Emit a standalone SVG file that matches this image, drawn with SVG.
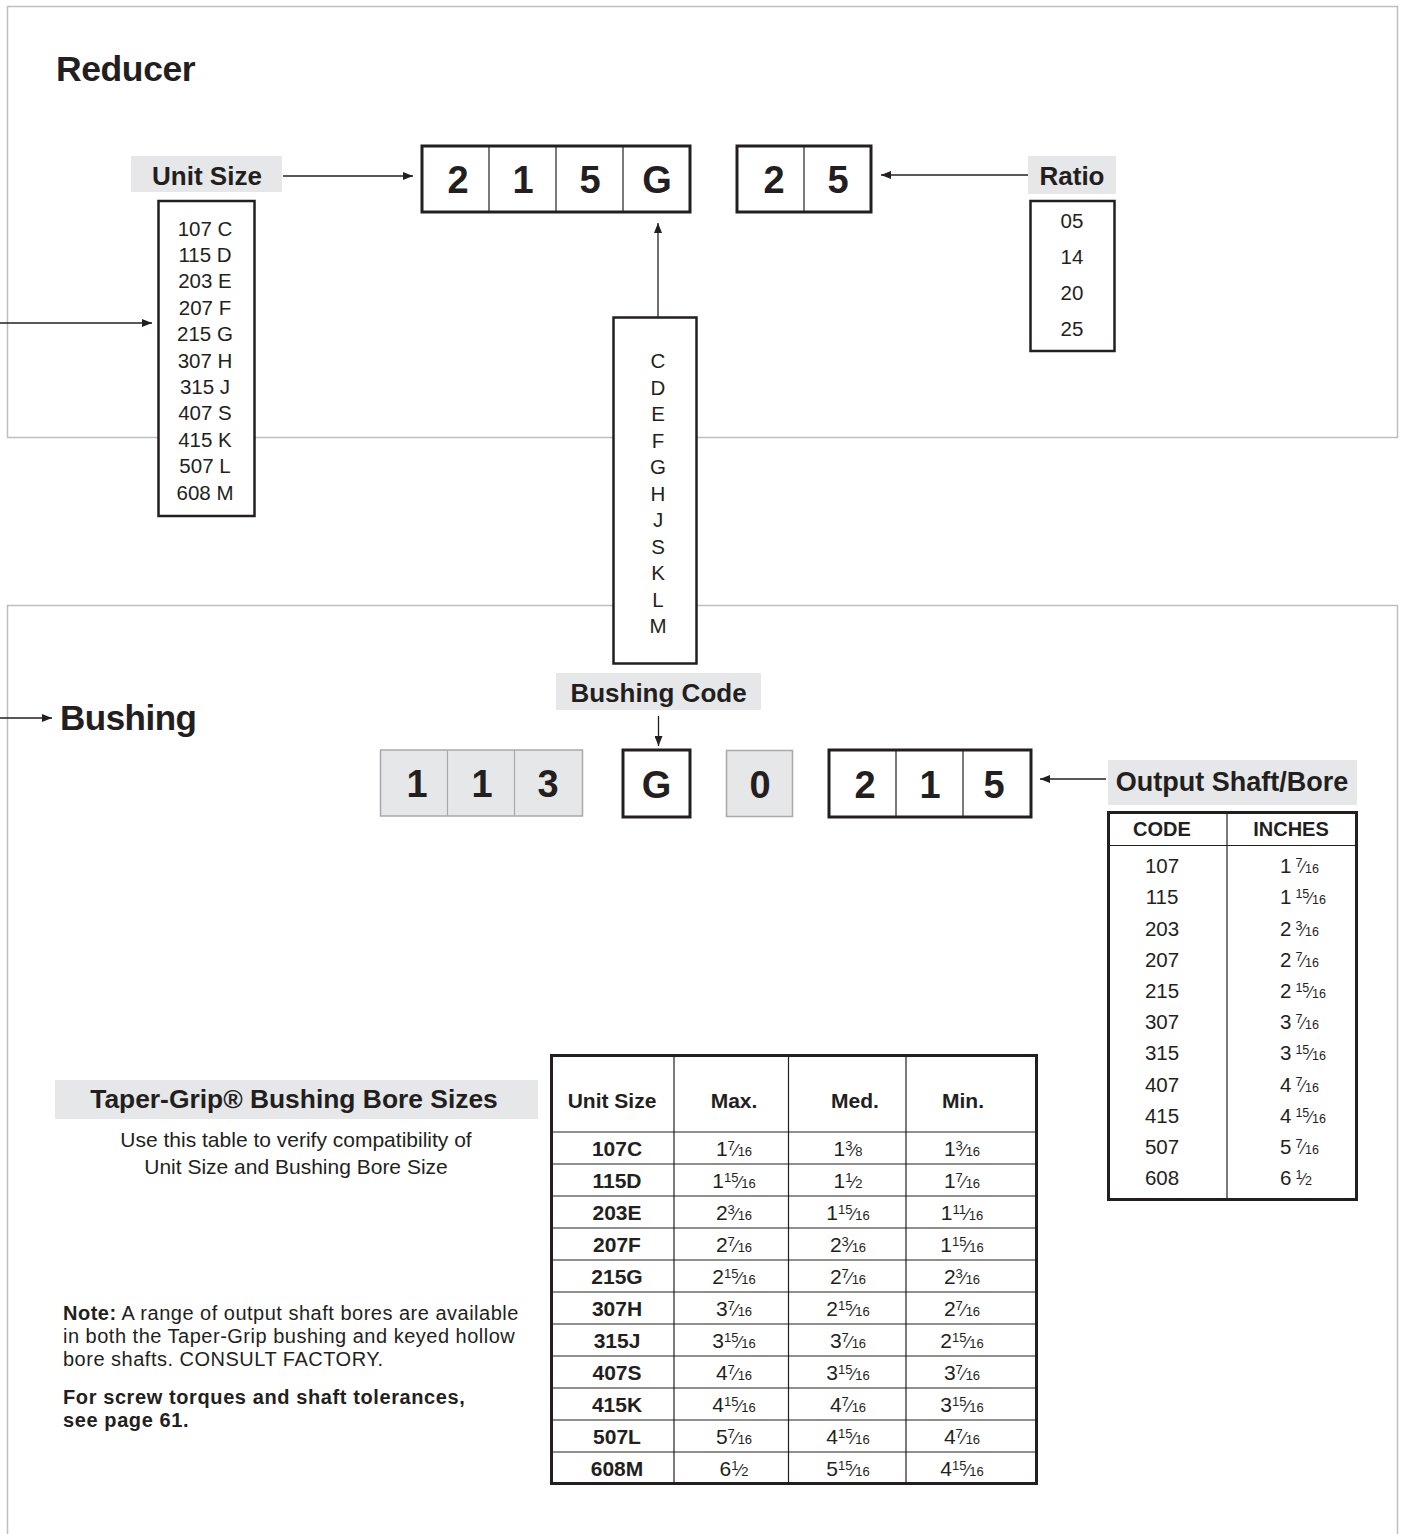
<svg xmlns="http://www.w3.org/2000/svg" width="1403" height="1534" viewBox="0 0 1403 1534">
<defs>
<marker id="ah" viewBox="0 0 10 8" refX="10" refY="4" markerWidth="10" markerHeight="8" markerUnits="userSpaceOnUse" orient="auto"><path d="M0,0 L10,4 L0,8 z" fill="#231f20"/></marker>
<style>
text{font-family:"Liberation Sans",Arial,sans-serif;fill:#231f20}
.b{font-weight:bold}
.m{text-anchor:middle}
.pn{fill:none;stroke:#bcbec0;stroke-width:1.5}
.lbl{fill:#e6e7e8}
.box{fill:#fff;stroke:#231f20;stroke-width:3}
.lst{fill:#fff;stroke:#231f20;stroke-width:2.5}
.gbox{fill:#e6e7e8;stroke:#a7a9ac;stroke-width:1.5}
.thin{stroke:#231f20;stroke-width:1.2;fill:none}
.gthin{stroke:#a7a9ac;stroke-width:1.2;fill:none}
.con{stroke:#231f20;stroke-width:1.3;fill:none;marker-end:url(#ah)}
.dg{font-size:38px;font-weight:bold}
.li{font-size:20.5px}
.fn{font-size:13px}
.fs{font-size:17px}
.on{font-size:12.5px}
.os{font-size:16px}
.nt{font-size:20px;letter-spacing:0.5px}
.nb{font-size:20px;letter-spacing:0.6px;font-weight:bold}
</style>
</defs>

<g id="panels">
<rect x="7.5" y="6.5" width="1390" height="431" class="pn"/>
<path d="M7.5 1534V605.5H1397.5V1534" class="pn"/>
</g>

<g id="connectors">
<line x1="283" y1="176" x2="413" y2="176" class="con"/>
<line x1="1030" y1="175" x2="881" y2="175" class="con"/>
<line x1="658" y1="317" x2="658" y2="223" class="con"/>
<line x1="0" y1="323" x2="152" y2="323" class="con"/>
<line x1="0" y1="718" x2="52" y2="718" class="con"/>
<line x1="658.5" y1="716" x2="658.5" y2="746" class="con"/>
<line x1="1106" y1="779" x2="1040" y2="779" class="con"/>
</g>

<g id="reducer-title">
<text x="56" y="81" class="b" font-size="35.5" letter-spacing="-0.4">Reducer</text>
</g>

<g id="unit-size-label">
<rect x="131" y="156" width="151" height="36" class="lbl"/>
<text x="207" y="184.5" class="b m" font-size="26">Unit Size</text>
</g>

<g id="unit-size-list">
<rect x="158.5" y="201" width="96" height="315" class="lst"/>
<text class="m li" x="205" y="235.5">107 C</text>
<text class="m li" x="205" y="261.9">115 D</text>
<text class="m li" x="205" y="288.3">203 E</text>
<text class="m li" x="205" y="314.7">207 F</text>
<text class="m li" x="205" y="341.1">215 G</text>
<text class="m li" x="205" y="367.5">307 H</text>
<text class="m li" x="205" y="393.9">315 J</text>
<text class="m li" x="205" y="420.3">407 S</text>
<text class="m li" x="205" y="446.7">415 K</text>
<text class="m li" x="205" y="473.1">507 L</text>
<text class="m li" x="205" y="499.5">608 M</text>
</g>

<g id="reducer-code">
<rect x="422" y="146" width="268" height="66" class="box"/>
<line x1="489" y1="146" x2="489" y2="212" class="thin"/>
<line x1="556" y1="146" x2="556" y2="212" class="thin"/>
<line x1="623" y1="146" x2="623" y2="212" class="thin"/>
<text class="m dg" x="458" y="192.5">2</text>
<text class="m dg" x="523" y="192.5">1</text>
<text class="m dg" x="590" y="192.5">5</text>
<text class="m dg" x="657" y="192.5">G</text>
</g>

<g id="ratio-code">
<rect x="737" y="146" width="134" height="66" class="box"/>
<line x1="804" y1="146" x2="804" y2="212" class="thin"/>
<text class="m dg" x="774" y="192.5">2</text>
<text class="m dg" x="838" y="192.5">5</text>
</g>

<g id="ratio-label">
<rect x="1028" y="156" width="88" height="38" class="lbl"/>
<text x="1072" y="185" class="b m" font-size="26">Ratio</text>
</g>

<g id="ratio-list">
<rect x="1030.5" y="201" width="84" height="150" class="lst"/>
<text class="m li" x="1072" y="228">05</text>
<text class="m li" x="1072" y="264">14</text>
<text class="m li" x="1072" y="300">20</text>
<text class="m li" x="1072" y="336">25</text>
</g>

<g id="bushing-code-list">
<rect x="613.5" y="317.5" width="83" height="346" class="lst"/>
<text class="m li" x="658" y="368">C</text>
<text class="m li" x="658" y="394.5">D</text>
<text class="m li" x="658" y="421">E</text>
<text class="m li" x="658" y="447.5">F</text>
<text class="m li" x="658" y="474">G</text>
<text class="m li" x="658" y="500.5">H</text>
<text class="m li" x="658" y="527">J</text>
<text class="m li" x="658" y="553.5">S</text>
<text class="m li" x="658" y="580">K</text>
<text class="m li" x="658" y="606.5">L</text>
<text class="m li" x="658" y="633">M</text>
</g>

<g id="bushing-title">
<text x="60" y="730" class="b" font-size="35" letter-spacing="-0.5">Bushing</text>
</g>

<g id="bushing-code-label">
<rect x="556" y="673" width="205" height="37" class="lbl"/>
<text x="658.5" y="702" class="b m" font-size="26">Bushing Code</text>
</g>

<g id="bushing-113">
<rect x="380.5" y="750" width="202" height="66" class="gbox"/>
<line x1="447.5" y1="750" x2="447.5" y2="816" class="gthin"/>
<line x1="514.5" y1="750" x2="514.5" y2="816" class="gthin"/>
<text class="m dg" x="417" y="797">1</text>
<text class="m dg" x="482" y="797">1</text>
<text class="m dg" x="548" y="797">3</text>
</g>

<g id="bushing-g">
<rect x="623" y="750" width="67" height="67" class="box"/>
<text class="m dg" x="656.5" y="797.5">G</text>
</g>

<g id="bushing-0">
<rect x="726.5" y="750.5" width="66" height="66" class="gbox"/>
<text class="m dg" x="760" y="797.5">0</text>
</g>

<g id="bushing-215">
<rect x="829" y="750" width="202" height="67" class="box"/>
<line x1="896" y1="750" x2="896" y2="817" class="thin"/>
<line x1="963" y1="750" x2="963" y2="817" class="thin"/>
<text class="m dg" x="865" y="797.5">2</text>
<text class="m dg" x="930" y="797.5">1</text>
<text class="m dg" x="994" y="797.5">5</text>
</g>

<g id="output-label">
<rect x="1108" y="760" width="249" height="45" class="lbl"/>
<text x="1232" y="791" class="b m" font-size="27">Output Shaft/Bore</text>
</g>

<g id="output-table">
<rect x="1108.5" y="812.5" width="248" height="387" class="box"/>
<line x1="1227" y1="812" x2="1227" y2="1199" class="thin"/>
<line x1="1108" y1="845.5" x2="1357" y2="845.5" class="thin"/>
<text class="b m" x="1162" y="836" font-size="20">CODE</text>
<text class="b m" x="1291" y="836" font-size="20">INCHES</text>
<text class="m li" x="1162" y="873">107</text>
<text class="m li" x="1162" y="904">115</text>
<text class="m li" x="1162" y="935.5">203</text>
<text class="m li" x="1162" y="966.5">207</text>
<text class="m li" x="1162" y="998">215</text>
<text class="m li" x="1162" y="1029">307</text>
<text class="m li" x="1162" y="1060">315</text>
<text class="m li" x="1162" y="1091.5">407</text>
<text class="m li" x="1162" y="1123">415</text>
<text class="m li" x="1162" y="1154">507</text>
<text class="m li" x="1162" y="1185">608</text>
<text class="li" x="1280" y="873">1<tspan class="on" dx="4" dy="-6">7</tspan><tspan class="os" dy="6">⁄</tspan><tspan class="on">16</tspan></text>
<text class="li" x="1280" y="904">1<tspan class="on" dx="4" dy="-6">15</tspan><tspan class="os" dy="6">⁄</tspan><tspan class="on">16</tspan></text>
<text class="li" x="1280" y="935.5">2<tspan class="on" dx="4" dy="-6">3</tspan><tspan class="os" dy="6">⁄</tspan><tspan class="on">16</tspan></text>
<text class="li" x="1280" y="966.5">2<tspan class="on" dx="4" dy="-6">7</tspan><tspan class="os" dy="6">⁄</tspan><tspan class="on">16</tspan></text>
<text class="li" x="1280" y="998">2<tspan class="on" dx="4" dy="-6">15</tspan><tspan class="os" dy="6">⁄</tspan><tspan class="on">16</tspan></text>
<text class="li" x="1280" y="1029">3<tspan class="on" dx="4" dy="-6">7</tspan><tspan class="os" dy="6">⁄</tspan><tspan class="on">16</tspan></text>
<text class="li" x="1280" y="1060">3<tspan class="on" dx="4" dy="-6">15</tspan><tspan class="os" dy="6">⁄</tspan><tspan class="on">16</tspan></text>
<text class="li" x="1280" y="1091.5">4<tspan class="on" dx="4" dy="-6">7</tspan><tspan class="os" dy="6">⁄</tspan><tspan class="on">16</tspan></text>
<text class="li" x="1280" y="1123">4<tspan class="on" dx="4" dy="-6">15</tspan><tspan class="os" dy="6">⁄</tspan><tspan class="on">16</tspan></text>
<text class="li" x="1280" y="1154">5<tspan class="on" dx="4" dy="-6">7</tspan><tspan class="os" dy="6">⁄</tspan><tspan class="on">16</tspan></text>
<text class="li" x="1280" y="1185">6<tspan class="on" dx="4" dy="-6">1</tspan><tspan class="os" dy="6">⁄</tspan><tspan class="on">2</tspan></text>
</g>

<g id="bore-sizes-label">
<rect x="55" y="1080" width="483" height="39" class="lbl"/>
<text x="294" y="1108" class="b m" font-size="26.4">Taper-Grip® Bushing Bore Sizes</text>
<text class="m" font-size="21"><tspan x="296" y="1147">Use this table to verify compatibility of</tspan><tspan x="296" y="1174">Unit Size and Bushing Bore Size</tspan></text>
</g>

<g id="note">
<text x="63" y="1319.5" class="nt"><tspan class="b">Note:</tspan> A range of output shaft bores are available</text>
<text x="63" y="1342.5" class="nt">in both the Taper-Grip bushing and keyed hollow</text>
<text x="63" y="1365.5" class="nt">bore shafts. CONSULT FACTORY.</text>
<text x="63" y="1404" class="nb">For screw torques and shaft tolerances,</text>
<text x="63" y="1427" class="nb">see page 61.</text>
</g>

<g id="bore-table" font-size="21">
<rect x="551.5" y="1055.5" width="485" height="428" class="box"/>
<line x1="674" y1="1054" x2="674" y2="1484" class="thin"/>
<line x1="788.5" y1="1054" x2="788.5" y2="1484" class="thin"/>
<line x1="906" y1="1054" x2="906" y2="1484" class="thin"/>
<path class="thin" d="M551 1132H1037M551 1164H1037M551 1196H1037M551 1228H1037M551 1260H1037M551 1292H1037M551 1324H1037M551 1356H1037M551 1388H1037M551 1420H1037M551 1452H1037"/>
<text class="b m" x="612" y="1108">Unit Size</text>
<text class="b m" x="734" y="1108">Max.</text>
<text class="b m" x="855" y="1108">Med.</text>
<text class="b m" x="963" y="1108">Min.</text>

<text class="b m" x="617" y="1156">107C</text>
<text class="b m" x="617" y="1188">115D</text>
<text class="b m" x="617" y="1220">203E</text>
<text class="b m" x="617" y="1252">207F</text>
<text class="b m" x="617" y="1284">215G</text>
<text class="b m" x="617" y="1316">307H</text>
<text class="b m" x="617" y="1348">315J</text>
<text class="b m" x="617" y="1380">407S</text>
<text class="b m" x="617" y="1412">415K</text>
<text class="b m" x="617" y="1444">507L</text>
<text class="b m" x="617" y="1476">608M</text>

<text class="m" x="734" y="1156">1<tspan class="fn" dy="-6">7</tspan><tspan class="fs" dy="6">⁄</tspan><tspan class="fn">16</tspan></text>
<text class="m" x="848" y="1156">1<tspan class="fn" dy="-6">3</tspan><tspan class="fs" dy="6">⁄</tspan><tspan class="fn">8</tspan></text>
<text class="m" x="962" y="1156">1<tspan class="fn" dy="-6">3</tspan><tspan class="fs" dy="6">⁄</tspan><tspan class="fn">16</tspan></text>

<text class="m" x="734" y="1188">1<tspan class="fn" dy="-6">15</tspan><tspan class="fs" dy="6">⁄</tspan><tspan class="fn">16</tspan></text>
<text class="m" x="848" y="1188">1<tspan class="fn" dy="-6">1</tspan><tspan class="fs" dy="6">⁄</tspan><tspan class="fn">2</tspan></text>
<text class="m" x="962" y="1188">1<tspan class="fn" dy="-6">7</tspan><tspan class="fs" dy="6">⁄</tspan><tspan class="fn">16</tspan></text>

<text class="m" x="734" y="1220">2<tspan class="fn" dy="-6">3</tspan><tspan class="fs" dy="6">⁄</tspan><tspan class="fn">16</tspan></text>
<text class="m" x="848" y="1220">1<tspan class="fn" dy="-6">15</tspan><tspan class="fs" dy="6">⁄</tspan><tspan class="fn">16</tspan></text>
<text class="m" x="962" y="1220">1<tspan class="fn" dy="-6">11</tspan><tspan class="fs" dy="6">⁄</tspan><tspan class="fn">16</tspan></text>

<text class="m" x="734" y="1252">2<tspan class="fn" dy="-6">7</tspan><tspan class="fs" dy="6">⁄</tspan><tspan class="fn">16</tspan></text>
<text class="m" x="848" y="1252">2<tspan class="fn" dy="-6">3</tspan><tspan class="fs" dy="6">⁄</tspan><tspan class="fn">16</tspan></text>
<text class="m" x="962" y="1252">1<tspan class="fn" dy="-6">15</tspan><tspan class="fs" dy="6">⁄</tspan><tspan class="fn">16</tspan></text>

<text class="m" x="734" y="1284">2<tspan class="fn" dy="-6">15</tspan><tspan class="fs" dy="6">⁄</tspan><tspan class="fn">16</tspan></text>
<text class="m" x="848" y="1284">2<tspan class="fn" dy="-6">7</tspan><tspan class="fs" dy="6">⁄</tspan><tspan class="fn">16</tspan></text>
<text class="m" x="962" y="1284">2<tspan class="fn" dy="-6">3</tspan><tspan class="fs" dy="6">⁄</tspan><tspan class="fn">16</tspan></text>

<text class="m" x="734" y="1316">3<tspan class="fn" dy="-6">7</tspan><tspan class="fs" dy="6">⁄</tspan><tspan class="fn">16</tspan></text>
<text class="m" x="848" y="1316">2<tspan class="fn" dy="-6">15</tspan><tspan class="fs" dy="6">⁄</tspan><tspan class="fn">16</tspan></text>
<text class="m" x="962" y="1316">2<tspan class="fn" dy="-6">7</tspan><tspan class="fs" dy="6">⁄</tspan><tspan class="fn">16</tspan></text>

<text class="m" x="734" y="1348">3<tspan class="fn" dy="-6">15</tspan><tspan class="fs" dy="6">⁄</tspan><tspan class="fn">16</tspan></text>
<text class="m" x="848" y="1348">3<tspan class="fn" dy="-6">7</tspan><tspan class="fs" dy="6">⁄</tspan><tspan class="fn">16</tspan></text>
<text class="m" x="962" y="1348">2<tspan class="fn" dy="-6">15</tspan><tspan class="fs" dy="6">⁄</tspan><tspan class="fn">16</tspan></text>

<text class="m" x="734" y="1380">4<tspan class="fn" dy="-6">7</tspan><tspan class="fs" dy="6">⁄</tspan><tspan class="fn">16</tspan></text>
<text class="m" x="848" y="1380">3<tspan class="fn" dy="-6">15</tspan><tspan class="fs" dy="6">⁄</tspan><tspan class="fn">16</tspan></text>
<text class="m" x="962" y="1380">3<tspan class="fn" dy="-6">7</tspan><tspan class="fs" dy="6">⁄</tspan><tspan class="fn">16</tspan></text>

<text class="m" x="734" y="1412">4<tspan class="fn" dy="-6">15</tspan><tspan class="fs" dy="6">⁄</tspan><tspan class="fn">16</tspan></text>
<text class="m" x="848" y="1412">4<tspan class="fn" dy="-6">7</tspan><tspan class="fs" dy="6">⁄</tspan><tspan class="fn">16</tspan></text>
<text class="m" x="962" y="1412">3<tspan class="fn" dy="-6">15</tspan><tspan class="fs" dy="6">⁄</tspan><tspan class="fn">16</tspan></text>

<text class="m" x="734" y="1444">5<tspan class="fn" dy="-6">7</tspan><tspan class="fs" dy="6">⁄</tspan><tspan class="fn">16</tspan></text>
<text class="m" x="848" y="1444">4<tspan class="fn" dy="-6">15</tspan><tspan class="fs" dy="6">⁄</tspan><tspan class="fn">16</tspan></text>
<text class="m" x="962" y="1444">4<tspan class="fn" dy="-6">7</tspan><tspan class="fs" dy="6">⁄</tspan><tspan class="fn">16</tspan></text>

<text class="m" x="734" y="1476">6<tspan class="fn" dy="-6">1</tspan><tspan class="fs" dy="6">⁄</tspan><tspan class="fn">2</tspan></text>
<text class="m" x="848" y="1476">5<tspan class="fn" dy="-6">15</tspan><tspan class="fs" dy="6">⁄</tspan><tspan class="fn">16</tspan></text>
<text class="m" x="962" y="1476">4<tspan class="fn" dy="-6">15</tspan><tspan class="fs" dy="6">⁄</tspan><tspan class="fn">16</tspan></text>
</g>
</svg>
